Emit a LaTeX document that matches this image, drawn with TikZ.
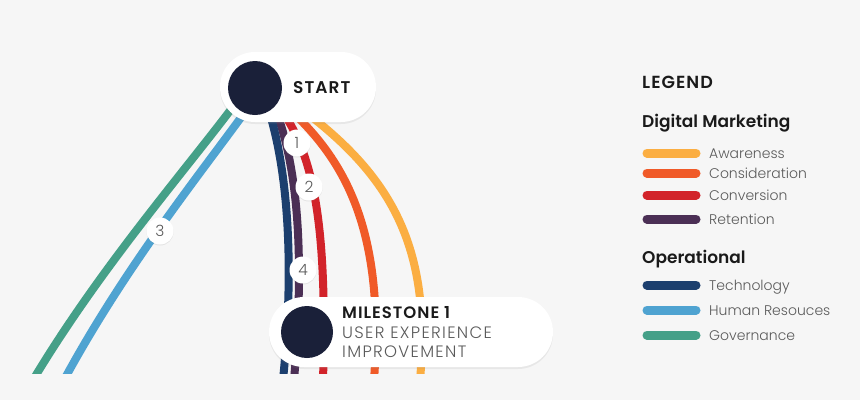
\documentclass[tikz,border=0pt]{standalone}
\usepackage{fontspec}
\setmainfont{Poppins}[BoldFont={Poppins SemiBold}]
\newfontfamily\thinfont{Poppins Light}
\newfontfamily\capsfont{Poppins Light}[LetterSpace=8]
\newfontfamily\capsbold{Poppins SemiBold}[LetterSpace=6]
\usetikzlibrary{shadows}

\definecolor{bgc}{HTML}{F6F6F6}
\definecolor{dotc}{HTML}{1A2039}
\definecolor{headc}{HTML}{1A1A1A}
\definecolor{itemc}{HTML}{5A5A5A}
\definecolor{awareness}{HTML}{FBAE42}
\definecolor{consideration}{HTML}{F05A28}
\definecolor{conversion}{HTML}{D2232A}
\definecolor{retention}{HTML}{4B2F55}
\definecolor{technology}{HTML}{1C3F6E}
\definecolor{humanres}{HTML}{4FA3D1}
\definecolor{governance}{HTML}{45A088}

\begin{document}
\begin{tikzpicture}[x=1pt,y=-1pt,
  track/.style={line width=8pt},
  pill/.style={fill=white,rounded corners=35pt,inner sep=0pt,
    drop shadow={opacity=0.12,shadow xshift=0pt,shadow yshift=-2pt}},
  dot/.style={circle,fill=dotc,inner sep=0pt,minimum size=#1},
  bubble/.style={circle,fill=white,inner sep=0pt,minimum size=27pt,text=itemc,
    font=\thinfont\fontsize{15.5}{15.5}\selectfont,
    drop shadow={opacity=0.15,shadow xshift=0pt,shadow yshift=-1pt}},
  swatch/.style={line width=9pt,line cap=round},
  head/.style={anchor=base west,inner sep=0pt,text=headc,font=\bfseries\fontsize{17}{20}\selectfont},
  item/.style={anchor=base west,inner sep=0pt,text=itemc,font=\thinfont\fontsize{14}{16}\selectfont}]
  \useasboundingbox (0,0) rectangle (860,400);
  \fill[bgc] (0,0) rectangle (860,400);

  \coordinate (aw0) at (300,108);  \coordinate (aw1) at (420,380);
  \coordinate (co0) at (288,108);  \coordinate (co1) at (374,380);
  \coordinate (cv0) at (280,108);  \coordinate (cv1) at (323,380);
  \coordinate (re0) at (275,108);  \coordinate (re1) at (294,380);
  \coordinate (te0) at (268,108);  \coordinate (te1) at (283,380);
  \coordinate (hr0) at (250,105);  \coordinate (hr1) at (64,380);
  \coordinate (go0) at (238,100);  \coordinate (go1) at (33,380);

  \begin{scope}
    \clip (0,0) rectangle (860,373);
    \draw[track,awareness] (aw0) .. controls (390,175) and (432,245) .. (aw1);
    \draw[track,consideration] (co0) .. controls (345,160) and (385,230) .. (co1);
    \draw[track,conversion] (cv0) .. controls (310,150) and (328,210) .. (cv1);
    \draw[track,retention] (re0) .. controls (295,160) and (306,240) .. (re1);
    \draw[track,technology] (te0) .. controls (285,160) and (296,250) .. (te1);
    \draw[track,humanres] (hr0) .. controls (205,168) and (128,262) .. (hr1);
    \draw[track,governance] (go0) .. controls (190,165) and (102,265) .. (go1);
  \end{scope}

  \node[pill,minimum width=156pt,minimum height=70pt] (start) at (298,87) {};
  \node[dot=54pt] (startdot) at (255,88) {};
  \node[head,font=\capsbold\fontsize{17}{20}\selectfont] (starttxt) at (293,93) {START};

  \node[pill,minimum width=284pt,minimum height=70pt] (ms) at (411,332) {};
  \node[dot=52pt] (msdot) at (307,332) {};
  \node[head,font=\capsbold\fontsize{16.5}{19}\selectfont] (mstitle) at (342,318) {MILESTONE 1};
  \node[item,font=\capsfont\fontsize{16.5}{19}\selectfont] (mssub1) at (342,338) {USER EXPERIENCE};
  \node[item,font=\capsfont\fontsize{16.5}{19}\selectfont] (mssub2) at (342,357) {IMPROVEMENT};

  \node[bubble] (n1) at (297,143) {1};
  \node[bubble] (n2) at (309,187) {2};
  \node[bubble] (n3) at (160,231) {3};
  \node[bubble] (n4) at (303,270) {4};

  \node[head,font=\capsbold\fontsize{17.5}{20}\selectfont] (legend) at (642,88) {LEGEND};
  \node[head] (digital) at (642,127) {Digital Marketing};
  \node[item] (aw) at (709,158) {Awareness};
  \node[item] (co) at (709,178) {Consideration};
  \node[item] (cv) at (709,200) {Conversion};
  \node[item] (re) at (709,224) {Retention};
  \node[head] (oper) at (642,263) {Operational};
  \node[item] (te) at (709,290) {Technology};
  \node[item] (hr) at (709,315) {Human Resouces};
  \node[item] (go) at (709,340) {Governance};

  \draw[swatch,awareness] (647,153) -- (696,153);
  \draw[swatch,consideration] (647,173) -- (696,173);
  \draw[swatch,conversion] (647,195) -- (696,195);
  \draw[swatch,retention] (647,219) -- (696,219);
  \draw[swatch,technology] (647,285) -- (696,285);
  \draw[swatch,humanres] (647,310) -- (696,310);
  \draw[swatch,governance] (647,335) -- (696,335);
\end{tikzpicture}
\end{document}
